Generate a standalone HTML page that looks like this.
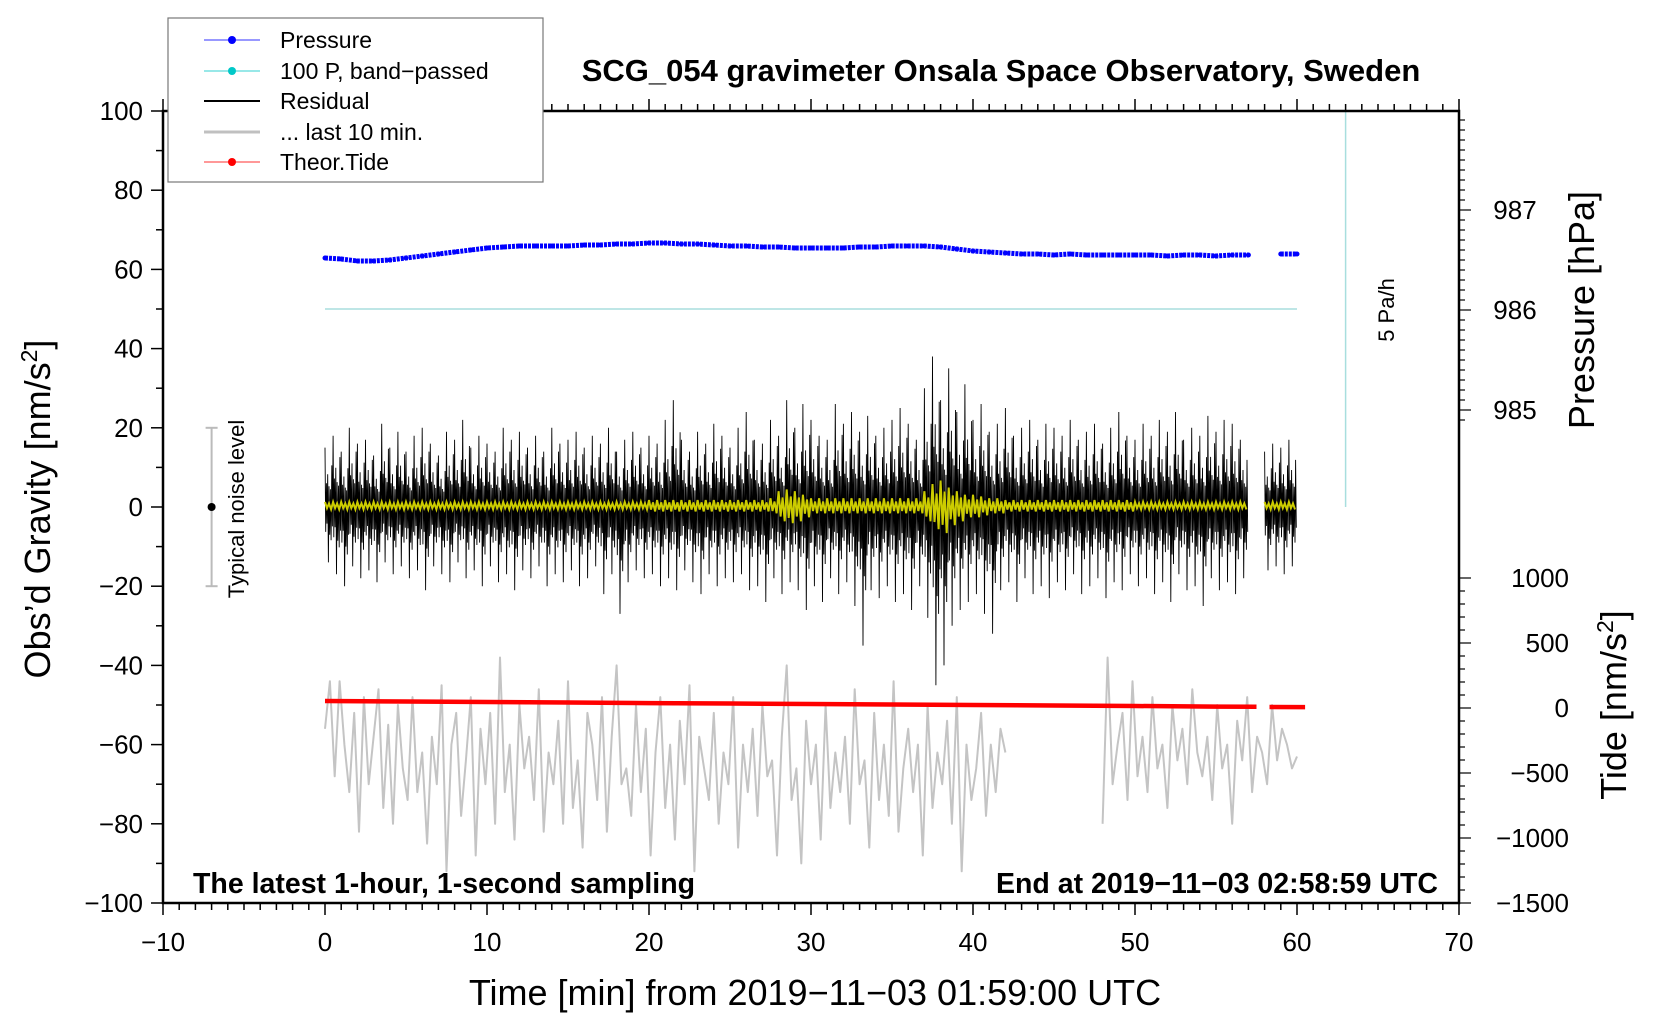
<!DOCTYPE html>
<html><head><meta charset="utf-8">
<style>
html,body{margin:0;padding:0;background:#fff;}
svg{display:block;font-family:"Liberation Sans",Arial,sans-serif;}
</style></head>
<body>
<svg id="chart" width="1660" height="1020" viewBox="0 0 1660 1020" xmlns="http://www.w3.org/2000/svg">
<rect x="0" y="0" width="1660" height="1020" fill="#fff"/>
<g id="marks"></g>
<g id="axes"></g>
<text x="1001" y="81" font-size="31" font-weight="bold" text-anchor="middle">SCG_054 gravimeter Onsala Space Observatory, Sweden</text>
<text x="815" y="1005" font-size="36" text-anchor="middle">Time [min] from 2019−11−03 01:59:00 UTC</text>
<text transform="translate(50,509) rotate(-90)" font-size="36" text-anchor="middle">Obs’d Gravity [nm/s<tspan font-size="23" dy="-13">2</tspan><tspan dy="13">]</tspan></text>
<text transform="translate(1594,310) rotate(-90)" font-size="36" text-anchor="middle">Pressure [hPa]</text>
<text transform="translate(1626,705) rotate(-90)" font-size="36" text-anchor="middle">Tide [nm/s<tspan font-size="23" dy="-13">2</tspan><tspan dy="13">]</tspan></text>
<text x="193" y="893" font-size="28.5" font-weight="bold">The latest 1-hour, 1-second sampling</text>
<text x="1438" y="893" font-size="28.5" font-weight="bold" text-anchor="end">End at 2019−11−03 02:58:59 UTC</text>
<text transform="translate(1394,310) rotate(-90)" font-size="22" text-anchor="middle">5 Pa/h</text>
<text transform="translate(244,509) rotate(-90)" font-size="22" text-anchor="middle">Typical noise level</text>
<g>
<rect x="168" y="18" width="375" height="164" fill="#fff" stroke="#777" stroke-width="1.2"/>
<line x1="204" y1="40" x2="260" y2="40" stroke="#3030ff" stroke-width="1"/><circle cx="232" cy="40" r="4" fill="#0000ff"/>
<text x="280" y="48" font-size="23">Pressure</text>
<line x1="204" y1="71" x2="260" y2="71" stroke="#30d0d0" stroke-width="1"/><circle cx="232" cy="71" r="4" fill="#00c8c8"/>
<text x="280" y="79" font-size="23">100 P, band−passed</text>
<line x1="204" y1="101" x2="260" y2="101" stroke="#000" stroke-width="2"/>
<text x="280" y="109" font-size="23">Residual</text>
<line x1="204" y1="132" x2="260" y2="132" stroke="#c0c0c0" stroke-width="3"/>
<text x="280" y="140" font-size="23">... last 10 min.</text>
<line x1="204" y1="162" x2="260" y2="162" stroke="#ff3030" stroke-width="1"/><circle cx="232" cy="162" r="4" fill="#ff0000"/>
<text x="280" y="170" font-size="23">Theor.Tide</text>
</g>
</svg>
<script>
// ---- data ----
const resHi = [15,18,14,20,16,17,13,21,15,19, 14,18,20,16,13,19,17,22,15,18, 16,14,20,17,19,15,18,14,20,16, 17,19,15,18,16,20,14,17,19,15,
18,16,22,27,17,14,19,16,21,18, 15,20,24,17,16,22,18,27,20,26, 22,18,17,26,21,24,19,23,18,20, 22,25,21,17,30,38,27,35,24,31,
22,26,19,21,25,18,20,22,17,21, 20,18,22,17,19,21,16,20,24,18, 17,21,18,22,19,24,17,20,18,23, 19,22,21,17,null,null,14,16,15,17];
const resLo = [-14,-17,-20,-15,-18,-16,-19,-14,-17,-15, -18,-16,-21,-15,-17,-19,-14,-18,-16,-20, -15,-19,-17,-21,-16,-18,-15,-20,-17,-19, -16,-20,-18,-15,-22,-17,-27,-19,-16,-18,
-17,-20,-18,-21,-16,-19,-22,-17,-20,-18, -19,-17,-21,-20,-24,-18,-22,-19,-21,-26, -20,-24,-18,-22,-19,-25,-35,-21,-23,-20, -24,-22,-26,-20,-28,-45,-40,-30,-26,-24,
-22,-27,-32,-21,-19,-24,-18,-22,-20,-23, -19,-21,-17,-22,-20,-18,-23,-19,-21,-17, -20,-18,-22,-19,-24,-17,-21,-20,-25,-18, -21,-19,-22,-18,null,null,-16,-15,-17,-15];
const bandAmp = [1,1,1,1,1,1,1,1,1,1, 1,1,1,1,1,1,1,1,1,1, 1,1,1,1,1,1,1,1,1,1, 1,1,1,1,1,1,1,1,1,1,
1.5,1.5,1.5,1.5,1.5,1.5,1.5,1.5,1.5,1.5, 1.5,1.5,1.5,1.5,1.5,2,4,4.5,4,3, 2,2,2,2,2,2,2,2,2,2, 2,2,2,2,4,6,7,5,4,3,
3,2.5,2,2,1.5,1.5,1.5,1.5,1.5,1.5, 1.5,1.5,1.5,1.5,1.5,1.5,1.5,1.5,1.5,1.5, 1,1,1,1,1,1,1,1,1,1, 1,1,1,1,null,null,1,1,1,1];
const pressure = [986.52,986.51,986.49,986.49,986.50,986.52,986.54,986.56,986.58,986.60,986.62,986.63,986.64,986.64,986.64,986.64,986.65,986.65,986.66,986.66,
986.67,986.67,986.66,986.66,986.65,986.64,986.64,986.63,986.63,986.62,986.62,986.62,986.62,986.63,986.63,986.64,986.64,986.64,986.63,986.61,
986.59,986.58,986.57,986.56,986.56,986.55,986.56,986.55,986.55,986.55,986.55,986.55,986.54,986.55,986.55,986.54,986.55,986.55,null,986.56,986.56];
const tideX = [0,5,10,15,20,25,30,35,40,45,50,55,57.5,57.9,58.3,60.5];
const tide = [54,50,46,42,38,35,31,27,23,19,15,11,9,null,8,7];
const lastA = [-56,-44,-68,-44,-60,-72,-52,-82,-48,-70,-58,-46,-76,-55,-80,-50,-66,-74,-48,-72,-62,-85,-58,-70,-45,-92,-60,-52,-78,-64,-48,-88,-56,-70,-52,-80,-38,-72,-60,-84,-50,-66,-58,-74,-46,-82,-62,-70,-54,-80,-44,-76,-64,-86,-52,-60,-74,-48,-82,-58,-40,-70,-66,-78,-50,-72,-56,-88,-62,-48,-76,-60,-84,-54,-70,-45,-92,-58,-66,-74,-52,-80,-62,-70,-48,-86,-60,-72,-56,-78,-50,-68,-64,-88,-58,-40,-74,-66,-90,-54,-70,-60,-84,-50,-76,-62,-72,-58,-80,-46,-70,-64,-86,-52,-74,-60,-78,-44,-82,-66,-56,-72,-60,-88,-50,-76,-62,-70,-54,-80,-48,-92,-60,-74,-66,-52,-78,-60,-72,-56,-62];
const lastB = [-80,-38,-70,-60,-52,-74,-44,-68,-58,-72,-48,-66,-60,-76,-50,-64,-56,-70,-46,-62,-68,-58,-74,-50,-66,-60,-80,-54,-64,-48,-72,-58,-62,-70,-50,-64,-56,-60,-66,-63];
const xTicks = [-10,0,10,20,30,40,50,60,70];
const yTicks = [100,80,60,40,20,0,-20,-40,-60,-80,-100];
const pTicks = [987,986,985];
const tTicks = [1000,500,0,-500,-1000,-1500];

// ---- axes functions ----
const X0=163,X1=1459,Y0=111,Y1=903;
const sx = v => X0 + (v+10)/80*(X1-X0);
const sy = v => Y0 + (100-v)/200*(Y1-Y0);
const sp = v => 310 - (v-986)*100;
const st = v => 708 - v*0.13;
const NS='http://www.w3.org/2000/svg';
const marks=document.getElementById('marks'), axes=document.getElementById('axes');
function mk(tag, attrs, parent){const e=document.createElementNS(NS,tag);for(const k in attrs)e.setAttribute(k,attrs[k]);parent.appendChild(e);return e;}

let cy = mk('line',{x1:sx(0),y1:sy(50),x2:sx(60),y2:sy(50),stroke:'#a8dede','stroke-width':1.5},marks);


let rb = mk('line',{x1:sx(63),y1:Y0,x2:sx(63),y2:sy(0),stroke:'#a8dede','stroke-width':1.5},marks);



let nb = mk('g',{},marks);


mk('line',{x1:sx(-7),y1:sy(20),x2:sx(-7),y2:sy(-20),stroke:'#bbb','stroke-width':2},nb);
mk('line',{x1:sx(-7)-6,y1:sy(20),x2:sx(-7)+6,y2:sy(20),stroke:'#bbb','stroke-width':2},nb);
mk('line',{x1:sx(-7)-6,y1:sy(-20),x2:sx(-7)+6,y2:sy(-20),stroke:'#bbb','stroke-width':2},nb);
mk('circle',{cx:sx(-7),cy:sy(0),r:4,fill:'#000'},nb);

function polySeg(arr,xa,xb){const n=arr.length;return arr.map((v,i)=>(sx(xa+i*(xb-xa)/(n-1))).toFixed(1)+','+sy(v).toFixed(1)).join(' ');}
let ga = mk('polyline',{points:polySeg(lastA,0,42),fill:'none',stroke:'#c4c4c4','stroke-width':2,'stroke-linejoin':'round'},marks);


let gb = mk('polyline',{points:polySeg(lastB,48,60),fill:'none',stroke:'#c4c4c4','stroke-width':2,'stroke-linejoin':'round'},marks);



function zig(hiArr,loArr,pat){
  const segs=[];let cur=[];
  for(let i=0;i<hiArr.length;i++){
    if(hiArr[i]===null){if(cur.length)segs.push(cur);cur=[];continue;}
    const h=hiArr[i],l=loArr[i],b=i*0.5;
    for(let k=0;k<pat.length;k++){
      const v=pat[k]>0?h*pat[k]:-l*pat[k];
      cur.push(sx(b+k/pat.length*0.5).toFixed(1)+','+sy(v).toFixed(1));
    }
  }
  if(cur.length)segs.push(cur);
  return segs;
}
const resPat=[1,-0.45,0.4,-0.3,0.55,-1,0.35,-0.5,0.3,-0.6,0.7,-0.35];
zig(resHi,resLo,resPat).forEach(s=>{
  const p=mk('polyline',{points:s.join(' '),fill:'none',stroke:'#000','stroke-width':0.9},marks);
  
  
});
(function(){
  const pat=[0.9,-0.7,0.5,-1];
  let cur=[];const segs=[];
  for(let i=0;i<bandAmp.length;i++){
    if(bandAmp[i]===null){if(cur.length)segs.push(cur);cur=[];continue;}
    for(let k=0;k<pat.length;k++){
      cur.push(sx(i*0.5+k/pat.length*0.5).toFixed(1)+','+sy(0.4+bandAmp[i]*pat[k]).toFixed(1));
    }
  }
  if(cur.length)segs.push(cur);
  segs.forEach(s=>{
    const p=mk('polyline',{points:s.join(' '),fill:'none',stroke:'#cccc00','stroke-width':2},marks);
    
    
  });
})();

let pg=mk('g',{},marks);


(function(){
  let cur=[];const segs=[];
  pressure.forEach((v,i)=>{if(v===null){if(cur.length)segs.push(cur);cur=[];}else cur.push(sx(i).toFixed(1)+','+sp(v).toFixed(1));});
  if(cur.length)segs.push(cur);
  segs.forEach(s=>mk('polyline',{points:s.join(' '),fill:'none',stroke:'#0000ff','stroke-width':5,'stroke-dasharray':'3 1'},pg));
  pressure.forEach((v,i)=>{if(v!==null){
    const c=mk('circle',{cx:sx(i),cy:sp(v),r:2.5,fill:'#0000ff'},pg);
    
    
  }});
})();

(function(){
  let cur=[];const segs=[];
  tide.forEach((v,i)=>{if(v===null){if(cur.length)segs.push(cur);cur=[];}else cur.push(sx(tideX[i]).toFixed(1)+','+st(v).toFixed(1));});
  if(cur.length)segs.push(cur);
  segs.forEach(s=>{
    const p=mk('polyline',{points:s.join(' '),fill:'none',stroke:'#ff0000','stroke-width':4.5},marks);
    
    
  });
})();

let fr=mk('rect',{x:X0,y:Y0,width:X1-X0,height:Y1-Y0,fill:'none',stroke:'#000','stroke-width':2.5},axes);


for(let v=-10;v<=70;v++){
  const maj=v%10===0, x=sx(v);
  mk('line',{x1:x,y1:Y1,x2:x,y2:Y1+(maj?12:7),stroke:'#000','stroke-width':1.5},axes);
  mk('line',{x1:x,y1:Y0,x2:x,y2:Y0-(maj?12:7),stroke:'#000','stroke-width':1.5},axes);
}
xTicks.forEach(v=>{
  const t=mk('text',{x:sx(v),y:Y1+48,'font-size':26,'text-anchor':'middle'},axes);
  t.textContent=String(v).replace('-','−');
  
  
});
for(let v=-100;v<=100;v+=10){
  const maj=v%20===0;
  mk('line',{x1:X0,y1:sy(v),x2:X0-(maj?12:7),y2:sy(v),stroke:'#000','stroke-width':1.5},axes);
}
yTicks.forEach(v=>{
  const t=mk('text',{x:X0-20,y:sy(v)+9,'font-size':26,'text-anchor':'end'},axes);
  t.textContent=String(v).replace('-','−');
  
  
});
for(let v=984.9;v<=987.95;v+=0.1){
  const y=sp(v); if(y<Y0||y>sy(0)+100) continue;
  const maj=Math.abs(v-Math.round(v))<0.01;
  mk('line',{x1:X1,y1:y,x2:X1+(maj?12:6),y2:y,stroke:'#000','stroke-width':1.2},axes);
}
pTicks.forEach(v=>{
  const t=mk('text',{x:X1+56,y:sp(v)+9,'font-size':26,'text-anchor':'middle'},axes);
  t.textContent=String(v);
  
  
});
for(let v=-1500;v<=1000;v+=100){
  const maj=v%500===0;
  mk('line',{x1:X1,y1:st(v),x2:X1+(maj?12:6),y2:st(v),stroke:'#000','stroke-width':1.2},axes);
}
tTicks.forEach(v=>{
  const t=mk('text',{x:X1+110,y:st(v)+9,'font-size':26,'text-anchor':'end'},axes);
  t.textContent=String(v).replace('-','−');
  
  
});
</script>
</body></html>
